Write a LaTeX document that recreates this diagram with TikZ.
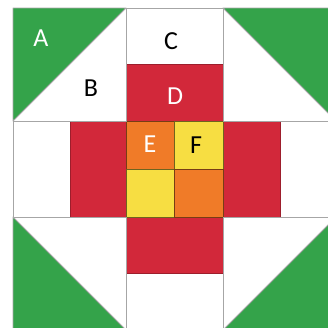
\documentclass[tikz,border=0pt]{standalone}
\usepackage{fontspec}
\setmainfont{Carlito}
\definecolor{quiltgreen}{RGB}{52,163,74}
\definecolor{quiltred}{RGB}{210,40,58}
\definecolor{quiltorange}{RGB}{240,123,40}
\definecolor{quiltyellow}{RGB}{247,222,66}

\begin{document}
\begin{tikzpicture}[x=1pt, y=-1pt,
    patch/.style={draw=gray!70, line width=0.9pt, line join=round},
    greenpatch/.style={patch, fill=quiltgreen},
    whitepatch/.style={patch, fill=white},
    redpatch/.style={draw=quiltred!75!black, line width=0.9pt, fill=quiltred},
    orangepatch/.style={draw=quiltorange!50!black, line width=0.9pt, fill=quiltorange},
    yellowpatch/.style={draw=quiltyellow!45!black, line width=0.9pt, fill=quiltyellow},
    patchlabel/.style={font=\fontsize{26}{26}\selectfont, inner sep=0pt}
]
    \useasboundingbox (0,0) rectangle (328,327);
    \clip (0,0) rectangle (328,327);

    % Side pieces (white strips)
    \draw[whitepatch] (126,8) rectangle (223,64);
    \draw[whitepatch] (126,273) rectangle (223,330);
    \draw[whitepatch] (13,121) rectangle (70,217);
    \draw[whitepatch] (280,121) rectangle (336,217);

    % Side pieces (red strips)
    \draw[redpatch] (126,64) rectangle (223,121);
    \draw[redpatch] (126,217) rectangle (223,273);
    \draw[redpatch] (70,121) rectangle (126,217);
    \draw[redpatch] (223,121) rectangle (280,217);

    % Four-patch centre
    \draw[orangepatch] (126,121) rectangle (174.5,169);
    \draw[yellowpatch] (174.5,121) rectangle (223,169);
    \draw[yellowpatch] (126,169) rectangle (174.5,217);
    \draw[orangepatch] (174.5,169) rectangle (223,217);

    % Corner squares, half white and half green
    \foreach \x/\y in {13/8, 223/8, 13/217, 223/217} {
        \draw[whitepatch] (\x,\y) rectangle ++(113,113);
    }
    \draw[greenpatch] (13,8) -- (126,8) -- (13,121) -- cycle;
    \draw[greenpatch] (223,8) -- (336,8) -- (336,121) -- cycle;
    \draw[greenpatch] (13,217) -- (126,330) -- (13,330) -- cycle;
    \draw[greenpatch] (336,217) -- (336,330) -- (223,330) -- cycle;

    % Letters
    \node[patchlabel, text=white] (a) at (41,38) {A};
    \node[patchlabel] (b) at (91,88) {B};
    \node[patchlabel] (c) at (171,41) {C};
    \node[patchlabel, text=white] (d) at (175,96) {D};
    \node[patchlabel, text=white] (e) at (150,144) {E};
    \node[patchlabel] (f) at (196,145) {F};
\end{tikzpicture}
\end{document}
